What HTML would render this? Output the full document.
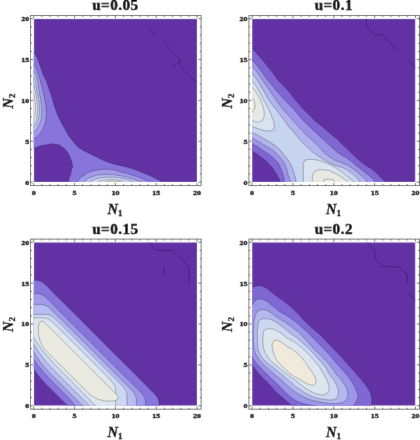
<!DOCTYPE html>
<html><head><meta charset="utf-8"><style>
html,body{margin:0;padding:0;background:#fff;}
svg{display:block;}
.tl{font-family:"Liberation Serif",serif;font-weight:bold;font-size:7.0px;fill:#000;stroke:#000;stroke-width:0.35px;}
.ti{font-family:"Liberation Serif",serif;font-weight:bold;font-size:14px;fill:#000;stroke:#000;stroke-width:0.45px;letter-spacing:0.45px;}
.ax{font-family:"Liberation Serif",serif;font-weight:bold;font-style:italic;font-size:14.5px;fill:#000;stroke:#000;stroke-width:0.3px;}
.sb{font-size:9px;font-style:normal;}
</style></head><body>
<svg width="420" height="440" viewBox="0 0 420 440">
<defs><filter id="bl" x="0" y="0" width="420" height="440" filterUnits="userSpaceOnUse"><feConvolveMatrix order="3" kernelMatrix="1 14 1 14 196 14 1 14 1" divisor="256" edgeMode="duplicate" preserveAlpha="true"/></filter></defs>
<g filter="url(#bl)">
<rect width="420" height="440" fill="#fff"/>
<clipPath id="c0"><rect x="33.7" y="18.7" width="163.4" height="163.4"/></clipPath>
<g clip-path="url(#c0)">
<rect x="33.7" y="18.7" width="163.4" height="163.4" fill="#6231a4"/>
<polygon points="25.0,52.3 33.7,52.3 36.3,55.9 38.4,60.9 40.2,65.9 42.0,70.9 43.8,76.6 46.3,80.7 48.4,87.1 50.6,93.6 52.7,100.0 54.9,107.6 57.7,115.2 61.5,122.9 65.3,129.5 68.9,136.1 73.8,142.3 78.1,147.2 84.3,150.9 90.4,154.0 96.6,157.0 102.7,160.1 108.9,162.6 115.0,164.3 120.0,165.5 126.0,166.7 131.9,168.5 137.9,170.8 143.8,173.2 149.8,175.6 155.7,178.6 160.5,181.0 163.0,182.2 165.0,190.0 68.9,190.0 68.6,182.0 68.9,179.0 69.4,176.9 70.9,173.4 71.2,170.5 72.4,167.5 72.5,165.4 71.6,161.5 70.2,157.5 68.6,154.0 67.4,151.9 64.4,148.5 61.5,146.6 59.4,145.1 56.5,144.6 54.9,144.5 52.5,143.8 50.3,143.9 47.5,144.6 45.7,145.1 43.5,145.2 41.1,145.6 38.8,146.5 36.6,147.3 33.7,148.3 25.0,148.4" fill="#8874dc" stroke="#000" stroke-opacity="0.38" stroke-width="0.7" stroke-linejoin="round"/>
<polygon points="25.0,64.4 33.7,64.4 35.6,67.3 37.4,71.6 39.3,77.0 40.6,82.1 42.4,89.3 44.1,96.4 45.2,101.0 45.8,105.7 46.3,114.3 45.8,121.0 43.9,126.7 41.5,131.4 38.7,135.2 35.5,137.8 33.7,139.0 25.0,139.0" fill="#a09ae8" stroke="#000" stroke-opacity="0.38" stroke-width="0.7" stroke-linejoin="round"/>
<polygon points="76.9,190.0 76.9,181.6 81.8,176.7 88.0,172.4 96.6,169.9 106.4,169.1 115.0,170.0 120.0,171.8 126.0,173.0 131.9,175.0 137.9,176.8 143.8,179.2 148.6,181.5 149.5,190.0" fill="#a09ae8" stroke="#000" stroke-opacity="0.38" stroke-width="0.7" stroke-linejoin="round"/>
<polygon points="25.0,71.0 33.7,71.0 35.0,73.0 36.3,75.5 37.7,82.1 38.8,89.3 39.9,96.4 40.8,100.0 41.6,107.6 41.6,115.2 40.7,121.0 38.7,125.7 35.8,130.5 33.7,132.0 25.0,132.0" fill="#b8bcf0" stroke="#000" stroke-opacity="0.38" stroke-width="0.7" stroke-linejoin="round"/>
<polygon points="84.3,190.0 84.3,181.6 89.2,177.9 96.6,175.2 105.2,174.4 115.0,174.8 122.4,176.2 129.7,178.0 137.1,180.4 140.8,181.6 141.0,190.0" fill="#b8bcf0" stroke="#000" stroke-opacity="0.38" stroke-width="0.7" stroke-linejoin="round"/>
<polygon points="25.0,77.0 33.7,77.0 34.9,80.5 36.0,87.0 37.3,94.0 38.6,100.0 39.3,107.6 39.2,114.3 37.8,121.0 35.5,125.0 33.7,126.5 25.0,126.5" fill="#ccd8f2" stroke="#000" stroke-opacity="0.38" stroke-width="0.7" stroke-linejoin="round"/>
<polygon points="90.4,190.0 90.4,181.6 96.6,178.6 105.2,177.2 115.0,177.2 122.4,178.4 128.5,180.2 132.2,181.6 132.5,190.0" fill="#ccd8f2" stroke="#000" stroke-opacity="0.38" stroke-width="0.7" stroke-linejoin="round"/>
<polygon points="25.0,84.0 33.7,84.0 35.0,90.0 36.4,97.0 37.3,105.0 37.4,112.0 36.6,118.0 35.0,122.5 33.7,124.0 25.0,124.0" fill="#dee6ee" stroke="#000" stroke-opacity="0.38" stroke-width="0.7" stroke-linejoin="round"/>
<polygon points="99.0,190.0 99.0,181.6 104.0,180.0 113.8,179.7 121.1,180.6 124.0,182.0 124.0,190.0" fill="#dee6ee" stroke="#000" stroke-opacity="0.38" stroke-width="0.7" stroke-linejoin="round"/>
<polygon points="25.0,93.0 33.7,93.0 34.8,99.0 35.3,105.0 35.3,112.0 34.6,117.0 33.7,119.0 25.0,119.0" fill="#ecebe2" stroke="#000" stroke-opacity="0.38" stroke-width="0.7" stroke-linejoin="round"/>
<polygon points="105.0,190.0 105.0,182.0 109.0,181.2 116.0,181.1 121.0,182.0 121.0,190.0" fill="#ecebe2" stroke="#000" stroke-opacity="0.38" stroke-width="0.7" stroke-linejoin="round"/>
<polyline points="148.2,27.2 156.4,35.4" fill="none" stroke="#3a1670" stroke-opacity="0.8" stroke-width="0.8"/>
<polyline points="164.5,43.2 180.5,60.0 179.5,63.2 181.4,67.7 198.0,84.0" fill="none" stroke="#3a1670" stroke-opacity="0.8" stroke-width="0.8"/>
<polyline points="180.5,60.0 172.7,67.7" fill="none" stroke="#3a1670" stroke-opacity="0.8" stroke-width="0.8"/>
</g>
<rect x="30.50" y="15.50" width="170.60" height="170.10" fill="none" stroke="#666" stroke-width="0.9"/>
<path d="M33.70,185.60v-2.6M33.70,15.50v2.6M30.50,182.10h2.6M201.10,182.10h-2.6M41.87,185.60v-1.5M41.87,15.50v1.5M30.50,173.93h1.5M201.10,173.93h-1.5M50.04,185.60v-1.5M50.04,15.50v1.5M30.50,165.76h1.5M201.10,165.76h-1.5M58.21,185.60v-1.5M58.21,15.50v1.5M30.50,157.59h1.5M201.10,157.59h-1.5M66.38,185.60v-1.5M66.38,15.50v1.5M30.50,149.42h1.5M201.10,149.42h-1.5M74.55,185.60v-2.6M74.55,15.50v2.6M30.50,141.25h2.6M201.10,141.25h-2.6M82.72,185.60v-1.5M82.72,15.50v1.5M30.50,133.08h1.5M201.10,133.08h-1.5M90.89,185.60v-1.5M90.89,15.50v1.5M30.50,124.91h1.5M201.10,124.91h-1.5M99.06,185.60v-1.5M99.06,15.50v1.5M30.50,116.74h1.5M201.10,116.74h-1.5M107.23,185.60v-1.5M107.23,15.50v1.5M30.50,108.57h1.5M201.10,108.57h-1.5M115.40,185.60v-2.6M115.40,15.50v2.6M30.50,100.40h2.6M201.10,100.40h-2.6M123.57,185.60v-1.5M123.57,15.50v1.5M30.50,92.23h1.5M201.10,92.23h-1.5M131.74,185.60v-1.5M131.74,15.50v1.5M30.50,84.06h1.5M201.10,84.06h-1.5M139.91,185.60v-1.5M139.91,15.50v1.5M30.50,75.89h1.5M201.10,75.89h-1.5M148.08,185.60v-1.5M148.08,15.50v1.5M30.50,67.72h1.5M201.10,67.72h-1.5M156.25,185.60v-2.6M156.25,15.50v2.6M30.50,59.55h2.6M201.10,59.55h-2.6M164.42,185.60v-1.5M164.42,15.50v1.5M30.50,51.38h1.5M201.10,51.38h-1.5M172.59,185.60v-1.5M172.59,15.50v1.5M30.50,43.21h1.5M201.10,43.21h-1.5M180.76,185.60v-1.5M180.76,15.50v1.5M30.50,35.04h1.5M201.10,35.04h-1.5M188.93,185.60v-1.5M188.93,15.50v1.5M30.50,26.87h1.5M201.10,26.87h-1.5M197.10,185.60v-2.6M197.10,15.50v2.6M30.50,18.70h2.6M201.10,18.70h-2.6" stroke="#333" stroke-width="0.7" fill="none"/>
<text class="tl" transform="translate(33.70,194.80) scale(1.15,1)" text-anchor="middle">0</text>
<text class="tl" transform="translate(29.20,184.55) scale(1.15,1)" text-anchor="end">0</text>
<text class="tl" transform="translate(74.55,194.80) scale(1.15,1)" text-anchor="middle">5</text>
<text class="tl" transform="translate(29.20,143.70) scale(1.15,1)" text-anchor="end">5</text>
<text class="tl" transform="translate(115.40,194.80) scale(1.15,1)" text-anchor="middle">10</text>
<text class="tl" transform="translate(29.20,102.85) scale(1.15,1)" text-anchor="end">10</text>
<text class="tl" transform="translate(156.25,194.80) scale(1.15,1)" text-anchor="middle">15</text>
<text class="tl" transform="translate(29.20,62.00) scale(1.15,1)" text-anchor="end">15</text>
<text class="tl" transform="translate(197.10,194.80) scale(1.15,1)" text-anchor="middle">20</text>
<text class="tl" transform="translate(29.20,21.15) scale(1.15,1)" text-anchor="end">20</text>
<text class="ti" transform="translate(115.40,10.00) scale(1.08,1)" text-anchor="middle">u=0.05</text>
<text class="ax" x="107.50" y="213.60">N<tspan class="sb" dy="2.2">1</tspan></text>
<text class="ax" transform="translate(13.20,108.50) rotate(-90)">N<tspan class="sb" dy="2.2">2</tspan></text><clipPath id="c1"><rect x="252.10000000000002" y="18.7" width="163.4" height="163.4"/></clipPath>
<g clip-path="url(#c1)">
<rect x="252.10000000000002" y="18.7" width="163.4" height="163.4" fill="#6231a4"/>
<polygon points="244.0,48.2 252.1,48.2 256.8,53.6 262.3,59.8 267.7,66.6 273.2,73.4 278.6,80.9 285.5,87.7 288.0,90.5 294.3,98.6 301.4,107.1 308.6,114.3 315.7,121.4 322.9,127.1 326.0,130.0 331.9,134.9 338.0,139.4 341.0,143.2 346.9,148.6 352.9,154.5 358.8,159.9 364.8,164.7 370.7,168.2 376.7,173.2 382.6,179.0 385.5,182.0 387.5,190.0 280.7,190.0 280.7,182.0 277.0,175.0 272.1,167.5 267.2,162.0 262.3,158.0 257.4,154.2 252.1,151.0 244.0,151.0" fill="#8066d2" stroke="#000" stroke-opacity="0.38" stroke-width="0.7" stroke-linejoin="round"/>
<polygon points="244.0,59.8 252.1,59.8 256.1,64.6 260.9,70.7 266.4,78.2 271.8,85.0 277.3,91.8 283.0,98.5 288.5,103.8 294.3,110.0 301.4,118.6 308.6,125.7 314.0,131.0 321.0,137.5 328.0,144.0 336.5,151.6 341.0,154.8 346.9,158.0 352.9,162.8 358.8,167.5 364.8,172.3 370.7,177.0 374.3,180.6 376.3,190.0 284.4,190.0 284.4,182.0 283.5,176.0 281.5,170.0 278.5,163.5 274.0,158.5 268.5,154.0 262.5,150.0 257.4,146.6 252.1,143.5 244.0,143.5" fill="#9c94e6" stroke="#000" stroke-opacity="0.38" stroke-width="0.7" stroke-linejoin="round"/>
<polygon points="244.0,66.6 252.1,66.6 256.1,70.7 260.9,77.5 265.0,83.7 270.5,91.8 275.0,98.5 279.0,104.0 283.5,110.0 288.5,115.5 294.5,122.0 300.5,129.0 306.5,135.2 312.6,140.5 318.0,146.0 323.5,152.0 329.0,156.5 334.5,160.0 341.0,162.5 346.9,164.7 352.9,168.7 358.8,173.5 364.8,178.8 366.0,180.0 368.0,190.0 290.5,190.0 290.5,182.0 288.1,175.0 286.0,166.5 283.0,161.0 279.5,156.5 275.0,152.0 269.5,148.0 263.5,144.5 257.4,141.0 252.1,138.0 244.0,138.0" fill="#b2b4ee" stroke="#000" stroke-opacity="0.38" stroke-width="0.7" stroke-linejoin="round"/>
<polygon points="244.0,73.4 252.1,73.4 256.8,79.6 260.9,86.4 265.0,93.2 268.5,99.5 272.5,105.0 277.0,110.5 281.0,116.0 285.0,121.5 289.0,127.0 293.0,131.5 297.0,136.0 301.0,141.0 306.0,146.0 312.0,151.5 319.0,156.5 326.9,161.5 334.5,165.2 341.0,167.0 346.9,169.5 352.9,174.1 358.8,180.0 360.8,190.0 296.1,190.0 296.1,182.0 295.3,177.0 293.0,170.0 290.0,163.0 285.5,156.5 280.5,150.5 275.0,145.5 269.0,141.5 263.4,138.5 257.5,135.0 252.1,132.5 244.0,132.5" fill="#c6d4f0" stroke="#000" stroke-opacity="0.38" stroke-width="0.7" stroke-linejoin="round"/>
<polygon points="244.0,80.9 252.1,80.9 255.5,85.0 259.5,91.8 263.0,98.5 266.0,104.0 269.0,110.0 271.5,115.5 273.5,121.0 274.5,125.5 274.0,129.5 270.0,131.0 265.0,130.8 259.5,129.3 255.0,127.5 252.1,126.0 244.0,126.0" fill="#d9e3ef" stroke="#000" stroke-opacity="0.38" stroke-width="0.7" stroke-linejoin="round"/>
<polygon points="303.4,190.0 303.4,172.0 303.2,163.5 305.0,160.0 310.0,159.3 315.0,159.6 320.0,160.8 327.0,163.2 334.5,167.0 341.0,171.5 346.9,176.0 352.9,180.8 354.0,182.0 355.0,190.0" fill="#d9e3ef" stroke="#000" stroke-opacity="0.38" stroke-width="0.7" stroke-linejoin="round"/>
<polygon points="244.0,87.5 252.1,87.5 255.5,91.5 258.5,96.0 261.0,101.0 263.0,106.5 264.2,111.5 264.2,116.5 262.5,120.5 258.6,122.2 254.8,121.7 252.1,120.3 244.0,120.3" fill="#e7e9e4" stroke="#000" stroke-opacity="0.38" stroke-width="0.7" stroke-linejoin="round"/>
<polygon points="312.2,190.0 312.2,182.0 312.5,175.0 314.5,171.5 318.0,170.0 322.0,169.6 329.4,170.5 335.5,173.5 341.0,176.6 346.5,180.5 348.1,182.0 349.0,190.0" fill="#e7e9e4" stroke="#000" stroke-opacity="0.38" stroke-width="0.7" stroke-linejoin="round"/>
<polygon points="244.0,97.7 252.1,97.7 254.2,100.1 255.0,104.5 254.8,108.5 253.0,111.5 252.1,112.2 244.0,112.2" fill="#f0ebdd" stroke="#000" stroke-opacity="0.38" stroke-width="0.7" stroke-linejoin="round"/>
<polygon points="323.3,190.0 323.3,182.0 323.9,179.8 328.2,178.9 333.1,179.8 335.5,182.0 336.0,190.0" fill="#f0ebdd" stroke="#000" stroke-opacity="0.38" stroke-width="0.7" stroke-linejoin="round"/>
<polyline points="366.3,18.0 366.6,26.3 374.4,34.9 382.3,34.9 398.7,51.3" fill="none" stroke="#3a1670" stroke-opacity="0.8" stroke-width="0.8"/>
<polyline points="407.3,59.1 416.5,68.3" fill="none" stroke="#3a1670" stroke-opacity="0.8" stroke-width="0.8"/>
</g>
<rect x="248.90" y="15.50" width="170.60" height="170.10" fill="none" stroke="#666" stroke-width="0.9"/>
<path d="M252.10,185.60v-2.6M252.10,15.50v2.6M248.90,182.10h2.6M419.50,182.10h-2.6M260.27,185.60v-1.5M260.27,15.50v1.5M248.90,173.93h1.5M419.50,173.93h-1.5M268.44,185.60v-1.5M268.44,15.50v1.5M248.90,165.76h1.5M419.50,165.76h-1.5M276.61,185.60v-1.5M276.61,15.50v1.5M248.90,157.59h1.5M419.50,157.59h-1.5M284.78,185.60v-1.5M284.78,15.50v1.5M248.90,149.42h1.5M419.50,149.42h-1.5M292.95,185.60v-2.6M292.95,15.50v2.6M248.90,141.25h2.6M419.50,141.25h-2.6M301.12,185.60v-1.5M301.12,15.50v1.5M248.90,133.08h1.5M419.50,133.08h-1.5M309.29,185.60v-1.5M309.29,15.50v1.5M248.90,124.91h1.5M419.50,124.91h-1.5M317.46,185.60v-1.5M317.46,15.50v1.5M248.90,116.74h1.5M419.50,116.74h-1.5M325.63,185.60v-1.5M325.63,15.50v1.5M248.90,108.57h1.5M419.50,108.57h-1.5M333.80,185.60v-2.6M333.80,15.50v2.6M248.90,100.40h2.6M419.50,100.40h-2.6M341.97,185.60v-1.5M341.97,15.50v1.5M248.90,92.23h1.5M419.50,92.23h-1.5M350.14,185.60v-1.5M350.14,15.50v1.5M248.90,84.06h1.5M419.50,84.06h-1.5M358.31,185.60v-1.5M358.31,15.50v1.5M248.90,75.89h1.5M419.50,75.89h-1.5M366.48,185.60v-1.5M366.48,15.50v1.5M248.90,67.72h1.5M419.50,67.72h-1.5M374.65,185.60v-2.6M374.65,15.50v2.6M248.90,59.55h2.6M419.50,59.55h-2.6M382.82,185.60v-1.5M382.82,15.50v1.5M248.90,51.38h1.5M419.50,51.38h-1.5M390.99,185.60v-1.5M390.99,15.50v1.5M248.90,43.21h1.5M419.50,43.21h-1.5M399.16,185.60v-1.5M399.16,15.50v1.5M248.90,35.04h1.5M419.50,35.04h-1.5M407.33,185.60v-1.5M407.33,15.50v1.5M248.90,26.87h1.5M419.50,26.87h-1.5M415.50,185.60v-2.6M415.50,15.50v2.6M248.90,18.70h2.6M419.50,18.70h-2.6" stroke="#333" stroke-width="0.7" fill="none"/>
<text class="tl" transform="translate(252.10,194.80) scale(1.15,1)" text-anchor="middle">0</text>
<text class="tl" transform="translate(247.60,184.55) scale(1.15,1)" text-anchor="end">0</text>
<text class="tl" transform="translate(292.95,194.80) scale(1.15,1)" text-anchor="middle">5</text>
<text class="tl" transform="translate(247.60,143.70) scale(1.15,1)" text-anchor="end">5</text>
<text class="tl" transform="translate(333.80,194.80) scale(1.15,1)" text-anchor="middle">10</text>
<text class="tl" transform="translate(247.60,102.85) scale(1.15,1)" text-anchor="end">10</text>
<text class="tl" transform="translate(374.65,194.80) scale(1.15,1)" text-anchor="middle">15</text>
<text class="tl" transform="translate(247.60,62.00) scale(1.15,1)" text-anchor="end">15</text>
<text class="tl" transform="translate(415.50,194.80) scale(1.15,1)" text-anchor="middle">20</text>
<text class="tl" transform="translate(247.60,21.15) scale(1.15,1)" text-anchor="end">20</text>
<text class="ti" transform="translate(333.80,10.00) scale(1.08,1)" text-anchor="middle">u=0.1</text>
<text class="ax" x="325.90" y="213.60">N<tspan class="sb" dy="2.2">1</tspan></text>
<text class="ax" transform="translate(231.60,108.50) rotate(-90)">N<tspan class="sb" dy="2.2">2</tspan></text><clipPath id="c2"><rect x="33.7" y="242.29999999999998" width="163.4" height="163.4"/></clipPath>
<g clip-path="url(#c2)">
<rect x="33.7" y="242.29999999999998" width="163.4" height="163.4" fill="#6231a4"/>
<polygon points="25.7,280.2 33.7,280.2 34.5,280.2 35.3,280.2 36.2,280.3 37.0,280.3 37.8,280.4 38.6,280.6 39.4,280.8 40.2,281.1 41.1,281.5 41.9,281.9 42.7,282.5 43.5,283.1 44.3,283.8 45.1,284.5 46.0,285.3 46.8,286.1 47.6,286.9 48.4,287.7 49.2,288.5 50.0,289.3 50.9,290.1 51.7,290.9 52.5,291.7 53.3,292.5 54.1,293.4 60.7,299.9 67.3,306.5 73.8,313.1 80.4,319.6 87.0,326.2 93.5,332.8 100.1,339.3 100.1,339.3 106.6,345.9 113.2,352.4 119.8,359.0 126.3,365.6 132.9,372.1 139.5,378.7 146.0,385.3 146.9,386.1 147.7,386.9 148.5,387.7 149.3,388.5 150.1,389.4 150.9,390.2 151.7,391.0 152.5,391.8 153.3,392.6 154.1,393.4 154.9,394.3 155.6,395.1 156.3,395.9 156.9,396.7 157.5,397.5 157.9,398.3 158.3,399.2 158.6,400.0 158.8,400.8 159.0,401.6 159.1,402.4 159.1,403.2 159.2,404.1 159.2,404.9 159.2,405.7 161.2,413.7 67.8,413.7 67.8,405.7 66.2,404.3 64.7,402.8 63.2,401.4 61.7,399.9 60.2,398.5 58.7,397.0 57.2,395.5 55.7,394.1 54.2,392.6 52.8,391.1 51.3,389.6 49.8,388.1 48.3,386.7 46.8,385.2 45.4,383.7 43.9,382.1 42.5,380.6 41.1,379.0 39.8,377.4 38.5,375.8 37.2,374.1 36.0,372.3 34.8,370.5 33.7,368.7 25.7,368.7" fill="#8874dc" stroke="#000" stroke-opacity="0.38" stroke-width="0.7" stroke-linejoin="round"/>
<polygon points="25.7,293.4 33.7,293.4 34.5,293.4 35.3,293.4 36.2,293.4 37.0,293.5 37.8,293.5 38.6,293.6 39.4,293.7 40.2,293.9 41.1,294.2 41.9,294.5 42.7,295.0 43.5,295.5 44.3,296.1 45.1,296.8 46.0,297.5 46.8,298.2 47.6,299.0 48.4,299.8 49.2,300.6 50.0,301.4 50.9,302.2 51.7,303.0 52.5,303.8 53.3,304.6 54.1,305.5 59.8,311.2 65.5,316.9 71.2,322.6 76.9,328.3 82.6,334.0 88.3,339.7 94.0,345.4 94.0,345.4 99.7,351.1 105.4,356.8 111.1,362.5 116.8,368.2 122.5,373.9 128.2,379.6 133.9,385.3 134.8,386.1 135.6,386.9 136.4,387.7 137.2,388.5 138.0,389.4 138.8,390.2 139.6,391.0 140.4,391.8 141.1,392.6 141.9,393.4 142.6,394.3 143.2,395.1 143.8,395.9 144.3,396.7 144.6,397.5 144.9,398.3 145.2,399.2 145.3,400.0 145.4,400.8 145.5,401.6 145.5,402.4 145.6,403.2 145.6,404.1 145.6,404.9 145.6,405.7 147.6,413.7 75.3,413.7 75.3,405.7 73.6,403.7 71.9,401.7 70.2,399.8 68.4,397.9 66.6,396.0 64.9,394.1 63.0,392.2 61.2,390.4 59.4,388.5 57.6,386.7 55.7,384.8 53.9,383.0 52.1,381.2 50.2,379.3 48.4,377.5 46.6,375.6 44.9,373.7 43.1,371.7 41.5,369.7 39.8,367.7 38.2,365.7 36.6,363.5 35.1,361.4 33.7,359.1 25.7,359.1" fill="#a09ae8" stroke="#000" stroke-opacity="0.38" stroke-width="0.7" stroke-linejoin="round"/>
<polygon points="25.7,304.4 33.7,304.4 34.5,304.4 35.3,304.4 36.2,304.4 37.0,304.4 37.8,304.4 38.6,304.4 39.4,304.4 40.2,304.5 41.1,304.5 41.9,304.6 42.7,304.7 43.5,304.8 44.3,305.0 45.1,305.3 46.0,305.6 46.8,306.1 47.6,306.6 48.4,307.3 49.2,307.9 50.0,308.7 50.9,309.4 51.7,310.2 52.5,311.0 53.3,311.8 54.1,312.6 59.3,317.8 64.5,322.9 69.7,328.1 74.9,333.3 80.1,338.5 85.3,343.7 90.5,348.9 90.5,348.9 95.7,354.1 100.9,359.3 106.1,364.5 111.3,369.7 116.5,374.9 121.6,380.1 126.8,385.3 127.6,386.1 128.5,386.9 129.3,387.7 130.1,388.5 130.8,389.4 131.6,390.2 132.4,391.0 133.1,391.8 133.7,392.6 134.3,393.4 134.8,394.3 135.3,395.1 135.6,395.9 135.9,396.7 136.0,397.5 136.2,398.3 136.2,399.2 136.3,400.0 136.3,400.8 136.4,401.6 136.4,402.4 136.4,403.2 136.4,404.1 136.4,404.9 136.4,405.7 138.4,413.7 82.8,413.7 82.8,405.7 80.6,403.6 78.4,401.5 76.3,399.4 74.1,397.2 71.9,395.1 69.8,393.0 67.6,390.8 65.5,388.7 63.3,386.5 61.2,384.4 59.0,382.2 56.9,380.1 54.7,377.9 52.6,375.8 50.5,373.6 48.4,371.4 46.3,369.1 44.3,366.8 42.4,364.5 40.5,362.1 38.7,359.6 36.9,357.1 35.3,354.4 33.7,351.7 25.7,351.7" fill="#b8bcf0" stroke="#000" stroke-opacity="0.38" stroke-width="0.7" stroke-linejoin="round"/>
<polygon points="25.7,314.4 33.7,314.4 34.5,314.4 35.3,314.4 36.2,314.4 37.0,314.4 37.8,314.4 38.6,314.4 39.4,314.4 40.2,314.4 41.1,314.4 41.9,314.4 42.7,314.4 43.5,314.4 44.3,314.4 45.1,314.4 46.0,314.5 46.8,314.5 47.6,314.6 48.4,314.7 49.2,314.9 50.0,315.2 50.9,315.5 51.7,316.0 52.5,316.5 53.3,317.1 54.1,317.8 59.0,322.3 63.8,327.2 68.7,332.0 73.5,336.8 78.3,341.7 83.2,346.5 88.0,351.4 88.0,351.4 92.9,356.2 97.7,361.1 102.6,365.9 107.4,370.7 112.2,375.6 117.1,380.4 121.8,385.3 122.6,386.1 123.3,386.9 124.0,387.7 124.6,388.5 125.2,389.4 125.7,390.2 126.1,391.0 126.3,391.8 126.6,392.6 126.7,393.4 126.8,394.3 126.9,395.1 126.9,395.9 127.0,396.7 127.0,397.5 127.0,398.3 127.0,399.2 127.0,400.0 127.0,400.8 127.0,401.6 127.0,402.4 127.0,403.2 127.0,404.1 127.0,404.9 127.0,405.7 129.0,413.7 89.5,413.7 89.5,405.7 87.0,403.3 84.6,400.9 82.1,398.4 79.6,396.0 77.2,393.6 74.7,391.1 72.3,388.7 69.8,386.3 67.4,383.8 64.9,381.4 62.5,378.9 60.0,376.5 57.6,374.0 55.2,371.6 52.8,369.1 50.4,366.5 48.1,364.0 45.8,361.4 43.6,358.7 41.4,355.9 39.4,353.1 37.4,350.2 35.5,347.2 33.7,344.1 25.7,344.1" fill="#ccd8f2" stroke="#000" stroke-opacity="0.38" stroke-width="0.7" stroke-linejoin="round"/>
<polygon points="25.7,317.9 33.7,317.9 34.5,317.9 35.3,317.9 36.2,317.9 37.0,317.9 37.8,317.9 38.6,317.9 39.4,317.9 40.2,317.9 41.1,317.9 41.9,317.9 42.7,317.9 43.5,318.0 44.3,318.0 45.1,318.1 46.0,318.3 46.8,318.5 47.6,318.8 48.4,319.1 49.2,319.6 50.0,320.1 50.9,320.7 51.7,321.4 52.5,322.1 53.3,322.9 54.1,323.7 58.5,328.0 62.9,332.4 67.3,336.8 71.7,341.2 76.2,345.6 80.6,350.0 85.0,354.4 85.0,354.4 89.4,358.8 93.8,363.2 98.2,367.7 102.6,372.1 107.0,376.5 111.2,380.9 114.5,385.3 114.9,386.1 115.1,386.9 115.3,387.7 115.5,388.5 115.6,389.4 115.6,390.2 115.7,391.0 115.7,391.8 115.7,392.6 115.7,393.4 115.7,394.3 115.7,395.1 115.7,395.9 115.7,396.7 115.7,397.5 115.7,398.3 115.7,399.2 115.7,400.0 115.7,400.8 115.7,401.6 115.7,402.4 115.7,403.2 115.7,404.1 115.7,404.9 115.7,405.7 117.7,413.7 95.3,413.7 95.3,405.7 92.7,402.9 90.1,400.1 87.4,397.4 84.8,394.6 82.1,391.9 79.4,389.1 76.7,386.4 74.0,383.7 71.3,381.0 68.6,378.3 65.9,375.6 63.2,372.9 60.5,370.2 57.8,367.4 55.2,364.7 52.5,361.9 50.0,359.1 47.4,356.2 44.9,353.3 42.5,350.3 40.2,347.2 37.9,344.1 35.8,340.8 33.7,337.5 25.7,337.5" fill="#dee6ee" stroke="#000" stroke-opacity="0.38" stroke-width="0.7" stroke-linejoin="round"/>
<polygon points="40.0,321.8 38.6,324.8 38.3,329.7 38.6,335.4 40.2,341.3 43.6,348.1 50.2,355.0 67.4,372.0 84.4,389.2 91.3,395.8 98.1,399.2 104.0,400.8 109.7,401.1 114.6,400.8 117.6,399.4 118.3,396.3 43.1,321.1" fill="#ebeae0" stroke="#000" stroke-opacity="0.38" stroke-width="0.7" stroke-linejoin="round"/>
<polyline points="148.6,241.5 155.7,250.0 172.1,250.3 188.6,266.4 189.3,282.9" fill="none" stroke="#3a1670" stroke-opacity="0.8" stroke-width="0.8"/>
<polyline points="164.3,266.4 164.3,275.0" fill="none" stroke="#3a1670" stroke-opacity="0.8" stroke-width="0.8"/>
</g>
<rect x="30.50" y="239.10" width="170.60" height="170.10" fill="none" stroke="#666" stroke-width="0.9"/>
<path d="M33.70,409.20v-2.6M33.70,239.10v2.6M30.50,405.70h2.6M201.10,405.70h-2.6M41.87,409.20v-1.5M41.87,239.10v1.5M30.50,397.53h1.5M201.10,397.53h-1.5M50.04,409.20v-1.5M50.04,239.10v1.5M30.50,389.36h1.5M201.10,389.36h-1.5M58.21,409.20v-1.5M58.21,239.10v1.5M30.50,381.19h1.5M201.10,381.19h-1.5M66.38,409.20v-1.5M66.38,239.10v1.5M30.50,373.02h1.5M201.10,373.02h-1.5M74.55,409.20v-2.6M74.55,239.10v2.6M30.50,364.85h2.6M201.10,364.85h-2.6M82.72,409.20v-1.5M82.72,239.10v1.5M30.50,356.68h1.5M201.10,356.68h-1.5M90.89,409.20v-1.5M90.89,239.10v1.5M30.50,348.51h1.5M201.10,348.51h-1.5M99.06,409.20v-1.5M99.06,239.10v1.5M30.50,340.34h1.5M201.10,340.34h-1.5M107.23,409.20v-1.5M107.23,239.10v1.5M30.50,332.17h1.5M201.10,332.17h-1.5M115.40,409.20v-2.6M115.40,239.10v2.6M30.50,324.00h2.6M201.10,324.00h-2.6M123.57,409.20v-1.5M123.57,239.10v1.5M30.50,315.83h1.5M201.10,315.83h-1.5M131.74,409.20v-1.5M131.74,239.10v1.5M30.50,307.66h1.5M201.10,307.66h-1.5M139.91,409.20v-1.5M139.91,239.10v1.5M30.50,299.49h1.5M201.10,299.49h-1.5M148.08,409.20v-1.5M148.08,239.10v1.5M30.50,291.32h1.5M201.10,291.32h-1.5M156.25,409.20v-2.6M156.25,239.10v2.6M30.50,283.15h2.6M201.10,283.15h-2.6M164.42,409.20v-1.5M164.42,239.10v1.5M30.50,274.98h1.5M201.10,274.98h-1.5M172.59,409.20v-1.5M172.59,239.10v1.5M30.50,266.81h1.5M201.10,266.81h-1.5M180.76,409.20v-1.5M180.76,239.10v1.5M30.50,258.64h1.5M201.10,258.64h-1.5M188.93,409.20v-1.5M188.93,239.10v1.5M30.50,250.47h1.5M201.10,250.47h-1.5M197.10,409.20v-2.6M197.10,239.10v2.6M30.50,242.30h2.6M201.10,242.30h-2.6" stroke="#333" stroke-width="0.7" fill="none"/>
<text class="tl" transform="translate(33.70,418.40) scale(1.15,1)" text-anchor="middle">0</text>
<text class="tl" transform="translate(29.20,408.15) scale(1.15,1)" text-anchor="end">0</text>
<text class="tl" transform="translate(74.55,418.40) scale(1.15,1)" text-anchor="middle">5</text>
<text class="tl" transform="translate(29.20,367.30) scale(1.15,1)" text-anchor="end">5</text>
<text class="tl" transform="translate(115.40,418.40) scale(1.15,1)" text-anchor="middle">10</text>
<text class="tl" transform="translate(29.20,326.45) scale(1.15,1)" text-anchor="end">10</text>
<text class="tl" transform="translate(156.25,418.40) scale(1.15,1)" text-anchor="middle">15</text>
<text class="tl" transform="translate(29.20,285.60) scale(1.15,1)" text-anchor="end">15</text>
<text class="tl" transform="translate(197.10,418.40) scale(1.15,1)" text-anchor="middle">20</text>
<text class="tl" transform="translate(29.20,244.75) scale(1.15,1)" text-anchor="end">20</text>
<text class="ti" transform="translate(115.40,233.60) scale(1.08,1)" text-anchor="middle">u=0.15</text>
<text class="ax" x="107.50" y="437.20">N<tspan class="sb" dy="2.2">1</tspan></text>
<text class="ax" transform="translate(13.20,332.10) rotate(-90)">N<tspan class="sb" dy="2.2">2</tspan></text><clipPath id="c3"><rect x="252.10000000000002" y="242.29999999999998" width="163.4" height="163.4"/></clipPath>
<g clip-path="url(#c3)">
<rect x="252.10000000000002" y="242.29999999999998" width="163.4" height="163.4" fill="#6231a4"/>
<polygon points="244.0,287.7 252.1,287.7 254.3,286.4 258.6,285.6 262.9,286.4 267.1,288.6 271.4,292.0 275.7,295.4 280.0,298.4 284.3,301.6 289.3,305.4 293.6,309.3 297.9,313.6 302.1,318.4 306.4,322.7 310.7,326.6 315.0,330.6 320.9,335.5 325.1,340.1 329.4,344.6 333.7,348.9 338.0,353.4 342.0,357.6 346.0,362.3 350.0,366.8 353.5,370.5 357.4,375.0 361.7,380.0 365.1,384.3 368.0,388.5 370.2,392.0 371.8,398.6 371.7,406.0 373.7,414.0 292.5,414.0 292.5,406.0 291.1,404.8 287.7,402.2 283.4,398.6 279.1,394.8 274.9,390.8 271.4,386.8 267.9,383.0 264.3,379.4 260.7,375.9 257.1,371.6 254.3,368.0 252.1,365.0 244.0,365.0" fill="#8068d4" stroke="#000" stroke-opacity="0.38" stroke-width="0.7" stroke-linejoin="round"/>
<polygon points="244.0,304.9 252.1,304.9 255.1,300.6 258.6,298.9 262.9,299.3 267.1,301.4 271.4,304.9 275.7,308.3 280.0,311.7 285.0,314.5 289.3,317.3 293.6,320.3 297.9,323.8 302.1,327.5 306.4,331.3 311.4,336.3 318.6,343.6 325.7,350.8 331.1,356.8 336.0,362.8 340.3,367.5 344.3,372.0 348.3,377.0 352.0,382.0 355.0,387.4 357.4,393.4 358.3,397.7 355.7,402.0 353.1,406.0 355.1,414.0 316.0,414.0 316.0,406.0 312.0,405.3 306.0,404.3 302.0,403.2 298.0,401.8 294.6,399.8 290.3,396.7 286.0,392.8 281.0,387.8 276.4,383.3 272.1,379.4 267.9,375.1 263.6,370.9 259.3,366.6 255.7,362.3 252.9,358.0 252.1,356.5 244.0,356.5" fill="#9c96e8" stroke="#000" stroke-opacity="0.38" stroke-width="0.7" stroke-linejoin="round"/>
<polygon points="253.4,340.0 253.4,330.0 253.9,321.0 255.1,316.0 256.9,311.9 259.4,310.0 262.9,309.6 267.1,310.4 271.4,313.0 274.9,316.0 280.0,319.3 285.0,322.1 289.3,325.4 293.6,328.3 297.9,331.6 301.4,335.0 304.3,338.3 309.0,343.2 314.0,349.2 318.3,353.1 322.6,357.4 326.9,361.7 330.3,365.8 333.0,369.5 336.0,374.2 339.6,377.5 343.0,382.3 346.3,387.4 348.0,393.4 347.1,398.6 344.6,401.6 340.3,403.1 335.1,403.6 330.0,403.6 323.4,402.6 317.4,401.5 311.4,400.2 306.3,398.3 301.1,395.6 296.0,392.5 291.0,388.8 287.0,385.3 282.9,381.3 278.6,377.7 274.3,374.1 270.5,370.9 265.7,366.6 261.4,362.3 257.9,358.0 255.6,354.0 254.2,349.0" fill="#b5b8ee" stroke="#000" stroke-opacity="0.38" stroke-width="0.7" stroke-linejoin="round"/>
<polygon points="257.5,345.0 257.3,335.4 257.7,326.9 258.6,321.7 260.3,319.6 262.9,318.7 267.1,318.7 271.4,319.6 275.7,321.7 280.0,325.0 284.0,327.9 288.0,331.3 292.3,334.5 296.6,337.6 300.9,341.2 305.1,345.0 309.4,349.3 313.7,353.6 318.3,359.2 322.6,363.4 326.0,368.0 330.0,375.4 334.3,380.6 336.9,385.7 338.6,391.7 337.7,396.9 334.3,399.4 330.0,400.2 326.8,399.7 321.7,399.1 316.6,398.0 311.4,396.2 306.3,393.6 301.1,390.4 296.0,386.8 290.7,382.0 286.4,378.4 282.1,374.9 277.9,371.3 274.0,368.0 271.4,366.3 266.4,362.3 262.1,358.0 259.6,353.5 258.0,349.0" fill="#ccd8f2" stroke="#000" stroke-opacity="0.38" stroke-width="0.7" stroke-linejoin="round"/>
<polygon points="263.0,345.0 262.9,337.0 263.7,331.1 265.4,329.4 268.9,328.6 273.1,329.0 277.4,330.7 281.7,333.7 285.0,336.6 288.0,338.6 292.3,340.7 296.6,343.6 300.9,347.1 305.1,350.7 308.7,354.3 312.0,358.0 315.5,362.0 319.5,367.0 323.4,373.5 326.0,378.3 328.6,384.3 329.4,389.4 327.7,392.9 323.4,395.0 318.3,394.4 313.1,392.5 308.9,390.3 304.6,387.6 300.3,384.4 295.7,380.6 290.7,377.0 285.7,373.4 281.4,369.9 277.1,366.3 272.6,362.5 269.8,359.5 267.3,356.0 265.0,352.3 263.6,348.5" fill="#dde6ee" stroke="#000" stroke-opacity="0.38" stroke-width="0.7" stroke-linejoin="round"/>
<polygon points="272.8,350.0 272.0,345.7 272.7,342.3 274.9,340.1 277.4,340.1 281.7,342.3 286.0,345.7 288.6,347.5 291.6,349.0 295.1,351.6 298.7,354.6 302.0,358.0 305.5,362.5 309.0,368.0 312.0,372.0 314.9,376.6 316.1,380.9 315.7,383.4 313.1,385.6 308.9,384.5 304.6,382.4 300.0,379.5 295.0,377.0 290.7,374.1 286.4,370.6 282.9,367.0 279.3,363.4 276.4,359.9 274.3,355.6 273.6,352.5" fill="#f0eadc" stroke="#000" stroke-opacity="0.38" stroke-width="0.7" stroke-linejoin="round"/>
<polyline points="366.6,241.5 374.4,250.0 375.1,258.6 382.3,266.4 399.4,267.1 407.3,275.0 407.3,282.9" fill="none" stroke="#3a1670" stroke-opacity="0.8" stroke-width="0.8"/>
<polyline points="407.3,292.1 416.5,301.3" fill="none" stroke="#3a1670" stroke-opacity="0.8" stroke-width="0.8"/>
</g>
<rect x="248.90" y="239.10" width="170.60" height="170.10" fill="none" stroke="#666" stroke-width="0.9"/>
<path d="M252.10,409.20v-2.6M252.10,239.10v2.6M248.90,405.70h2.6M419.50,405.70h-2.6M260.27,409.20v-1.5M260.27,239.10v1.5M248.90,397.53h1.5M419.50,397.53h-1.5M268.44,409.20v-1.5M268.44,239.10v1.5M248.90,389.36h1.5M419.50,389.36h-1.5M276.61,409.20v-1.5M276.61,239.10v1.5M248.90,381.19h1.5M419.50,381.19h-1.5M284.78,409.20v-1.5M284.78,239.10v1.5M248.90,373.02h1.5M419.50,373.02h-1.5M292.95,409.20v-2.6M292.95,239.10v2.6M248.90,364.85h2.6M419.50,364.85h-2.6M301.12,409.20v-1.5M301.12,239.10v1.5M248.90,356.68h1.5M419.50,356.68h-1.5M309.29,409.20v-1.5M309.29,239.10v1.5M248.90,348.51h1.5M419.50,348.51h-1.5M317.46,409.20v-1.5M317.46,239.10v1.5M248.90,340.34h1.5M419.50,340.34h-1.5M325.63,409.20v-1.5M325.63,239.10v1.5M248.90,332.17h1.5M419.50,332.17h-1.5M333.80,409.20v-2.6M333.80,239.10v2.6M248.90,324.00h2.6M419.50,324.00h-2.6M341.97,409.20v-1.5M341.97,239.10v1.5M248.90,315.83h1.5M419.50,315.83h-1.5M350.14,409.20v-1.5M350.14,239.10v1.5M248.90,307.66h1.5M419.50,307.66h-1.5M358.31,409.20v-1.5M358.31,239.10v1.5M248.90,299.49h1.5M419.50,299.49h-1.5M366.48,409.20v-1.5M366.48,239.10v1.5M248.90,291.32h1.5M419.50,291.32h-1.5M374.65,409.20v-2.6M374.65,239.10v2.6M248.90,283.15h2.6M419.50,283.15h-2.6M382.82,409.20v-1.5M382.82,239.10v1.5M248.90,274.98h1.5M419.50,274.98h-1.5M390.99,409.20v-1.5M390.99,239.10v1.5M248.90,266.81h1.5M419.50,266.81h-1.5M399.16,409.20v-1.5M399.16,239.10v1.5M248.90,258.64h1.5M419.50,258.64h-1.5M407.33,409.20v-1.5M407.33,239.10v1.5M248.90,250.47h1.5M419.50,250.47h-1.5M415.50,409.20v-2.6M415.50,239.10v2.6M248.90,242.30h2.6M419.50,242.30h-2.6" stroke="#333" stroke-width="0.7" fill="none"/>
<text class="tl" transform="translate(252.10,418.40) scale(1.15,1)" text-anchor="middle">0</text>
<text class="tl" transform="translate(247.60,408.15) scale(1.15,1)" text-anchor="end">0</text>
<text class="tl" transform="translate(292.95,418.40) scale(1.15,1)" text-anchor="middle">5</text>
<text class="tl" transform="translate(247.60,367.30) scale(1.15,1)" text-anchor="end">5</text>
<text class="tl" transform="translate(333.80,418.40) scale(1.15,1)" text-anchor="middle">10</text>
<text class="tl" transform="translate(247.60,326.45) scale(1.15,1)" text-anchor="end">10</text>
<text class="tl" transform="translate(374.65,418.40) scale(1.15,1)" text-anchor="middle">15</text>
<text class="tl" transform="translate(247.60,285.60) scale(1.15,1)" text-anchor="end">15</text>
<text class="tl" transform="translate(415.50,418.40) scale(1.15,1)" text-anchor="middle">20</text>
<text class="tl" transform="translate(247.60,244.75) scale(1.15,1)" text-anchor="end">20</text>
<text class="ti" transform="translate(333.80,233.60) scale(1.08,1)" text-anchor="middle">u=0.2</text>
<text class="ax" x="325.90" y="437.20">N<tspan class="sb" dy="2.2">1</tspan></text>
<text class="ax" transform="translate(231.60,332.10) rotate(-90)">N<tspan class="sb" dy="2.2">2</tspan></text>
</g>
</svg>
</body></html>
